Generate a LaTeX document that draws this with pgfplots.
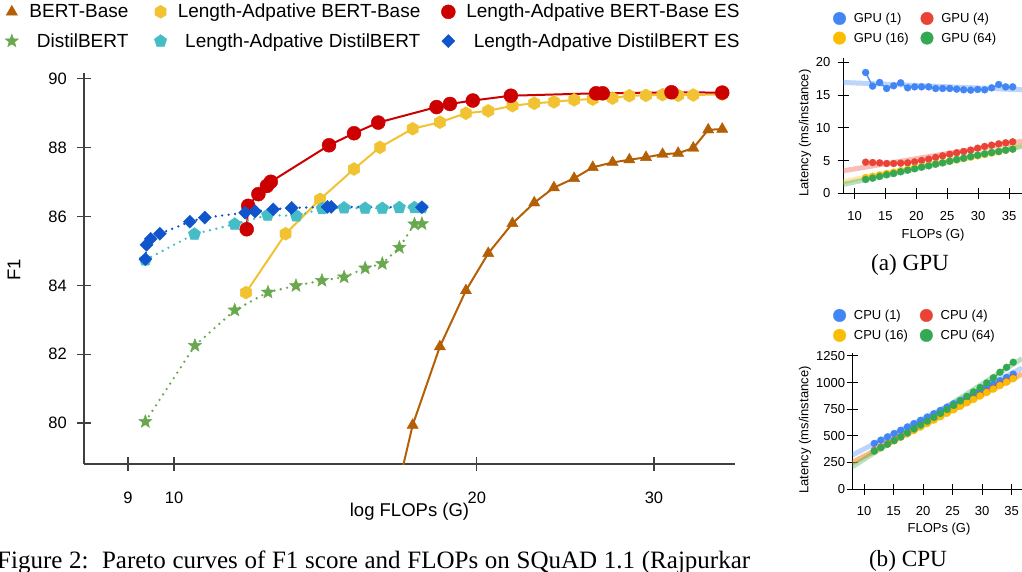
\documentclass[border=0pt]{standalone}
\usepackage{fontspec}
\setmainfont{Liberation Sans}
\newfontfamily\capfont{Liberation Serif}
\usepackage{pgfplots}
\pgfplotsset{compat=1.18}
\usetikzlibrary{plotmarks}

\definecolor{cBrown}{HTML}{B45F06}
\definecolor{cYellow}{HTML}{F1C232}
\definecolor{cRed}{HTML}{CC0000}
\definecolor{cGreen}{HTML}{6AA84F}
\definecolor{cCyan}{HTML}{46BDC6}
\definecolor{cBlue}{HTML}{1155CC}
\definecolor{gBlue}{HTML}{4285F4}
\definecolor{gRed}{HTML}{EA4335}
\definecolor{gYellow}{HTML}{FBBC04}
\definecolor{gGreen}{HTML}{34A853}

% filled hexagon and filled 5-point star marks
\pgfdeclareplotmark{hexagon*}{%
  \pgfpathmoveto{\pgfpointpolar{90}{\pgfplotmarksize}}%
  \pgfpathlineto{\pgfpointpolar{150}{\pgfplotmarksize}}%
  \pgfpathlineto{\pgfpointpolar{210}{\pgfplotmarksize}}%
  \pgfpathlineto{\pgfpointpolar{270}{\pgfplotmarksize}}%
  \pgfpathlineto{\pgfpointpolar{330}{\pgfplotmarksize}}%
  \pgfpathlineto{\pgfpointpolar{30}{\pgfplotmarksize}}%
  \pgfpathclose
  \pgfusepathqfillstroke
}
\pgfdeclareplotmark{fstar}{%
  \pgfpathmoveto{\pgfpointpolar{90}{\pgfplotmarksize}}%
  \pgfpathlineto{\pgfpointpolar{126}{0.42\pgfplotmarksize}}%
  \pgfpathlineto{\pgfpointpolar{162}{\pgfplotmarksize}}%
  \pgfpathlineto{\pgfpointpolar{198}{0.42\pgfplotmarksize}}%
  \pgfpathlineto{\pgfpointpolar{234}{\pgfplotmarksize}}%
  \pgfpathlineto{\pgfpointpolar{270}{0.42\pgfplotmarksize}}%
  \pgfpathlineto{\pgfpointpolar{306}{\pgfplotmarksize}}%
  \pgfpathlineto{\pgfpointpolar{342}{0.42\pgfplotmarksize}}%
  \pgfpathlineto{\pgfpointpolar{18}{\pgfplotmarksize}}%
  \pgfpathlineto{\pgfpointpolar{54}{0.42\pgfplotmarksize}}%
  \pgfpathclose
  \pgfusepathqfillstroke
}

\pgfplotsset{
  /pgf/number format/assume math mode=true,
  /pgf/number format/1000 sep={},
  dotline/.style={dash pattern=on 0pt off 6.5pt, line cap=round, line width=2.6pt},
  trend/.style={line width=5pt, opacity=0.35, forget plot},
}

\begin{document}
\begin{tikzpicture}
\useasboundingbox (0pt,0pt) rectangle (1022pt,571pt);

% ---------------- main Pareto chart ----------------
\begin{axis}[
  at={(84pt,107pt)}, anchor=south west,
  scale only axis, width=651pt, height=391pt,
  xmode=log, xmin=8.138, xmax=36.12, ymin=78.81, ymax=90.17,
  axis x line*=bottom, axis y line*=left,
  axis line style={draw=black!75, line width=1.3pt},
  every tick/.style={draw=black!75, line width=1.3pt},
  tick align=center, major tick length=14pt,
  xtick={9,10,20,30}, xticklabels={9,10,20,30}, minor xtick={},
  ytick={80,82,84,86,88,90},
  tick label style={font=\fontsize{16.5}{18}\selectfont, inner sep=0pt},
  xticklabel style={anchor=center, yshift=-27pt},
  yticklabel style={anchor=east, xshift=-10pt},
  xlabel={log FLOPs (G)}, ylabel={F1},
  label style={font=\fontsize{18.5}{21}\selectfont},
  xlabel style={at={(axis description cs:0.5,-0.1228)}, anchor=center},
  ylabel style={at={(axis description cs:-0.1075,0.496)}, anchor=center},
  legend columns=3, legend cell align=right,
  legend style={draw=none, fill=none, at={(axis description cs:-0.126,1.1867)},
    anchor=north west, font=\fontsize{19}{22}\selectfont, row sep=10pt,
    /tikz/every odd column/.append style={column sep=9pt},
    /tikz/every even column/.append style={column sep=24pt}},
  legend image code/.code={\draw[#1,/tikz/only marks] plot coordinates {(0pt,0pt)};},
]
\addplot[cBrown, line width=2pt, mark=triangle*, mark size=6.5pt,
  mark options={solid, line width=0.4pt}] coordinates {
  (16.6,77.8) (17.27,79.94) (18.38,82.22) (19.51,83.85) (20.53,84.93) (21.70,85.80)
  (22.81,86.40) (23.86,86.84) (24.99,87.11) (26.08,87.43) (27.29,87.57) (28.36,87.65)
  (29.46,87.72) (30.60,87.81) (31.71,87.84) (32.83,87.99) (33.97,88.52) (35.08,88.54)};
\addlegendentry{BERT-Base}
\addplot[cYellow, line width=2pt, mark=hexagon*, mark size=6.5pt,
  mark options={solid, line width=0.4pt}] coordinates {
  (11.79,83.79) (12.91,85.50) (13.97,86.50) (15.10,87.38) (16.02,88.01) (17.27,88.55)
  (18.38,88.74) (19.51,89.00) (20.53,89.07) (21.70,89.22) (22.81,89.29) (23.86,89.33)
  (24.99,89.39) (26.08,89.41) (27.29,89.44) (28.36,89.51) (29.46,89.52) (30.60,89.54)
  (31.71,89.52) (32.83,89.53) (35.08,89.55)};
\addlegendentry{Length-Adpative BERT-Base\hspace*{-5pt}}
\addplot[cRed, line width=2pt, mark=*, mark size=7pt,
  mark options={solid, line width=0.4pt}] coordinates {
  (11.81,85.63) (11.85,86.31) (12.13,86.65) (12.37,86.89) (12.48,87.01) (14.26,88.07)
  (15.10,88.42) (15.96,88.73) (18.24,89.18) (18.81,89.27) (19.82,89.37) (21.62,89.51)
  (26.28,89.58) (26.68,89.58) (31.23,89.61) (35.08,89.60)};
\addlegendentry{Length-Adpative BERT-Base ES}
\addplot[cGreen, dotline, mark=fstar, mark size=7pt,
  mark options={solid, line width=0.4pt}] coordinates {
  (9.365,80.04) (10.49,82.25) (11.49,83.28) (12.40,83.80) (13.22,83.99) (14.03,84.14)
  (14.76,84.24) (15.49,84.50) (16.11,84.63) (16.75,85.10) (17.34,85.78) (17.64,85.79)};
\addlegendentry{DistilBERT}
\addplot[cCyan, dotline, mark=pentagon*, mark size=6.5pt,
  mark options={solid, line width=0.4pt}] coordinates {
  (9.365,84.74) (10.48,85.49) (11.49,85.78) (12.39,86.04) (13.23,86.02) (14.04,86.23)
  (14.76,86.25) (15.49,86.24) (16.11,86.24) (16.75,86.26) (17.34,86.26) (17.64,86.26)};
\addlegendentry{Length-Adpative DistilBERT\hspace*{-5pt}}
\addplot[cBlue, dotline, mark=square*, mark size=4.6pt,
  mark options={solid, line width=0.4pt, rotate=45}] coordinates {
  (9.365,84.76) (9.39,85.18) (9.48,85.35) (9.68,85.50) (10.37,85.85) (10.73,85.97)
  (11.77,86.11) (12.04,86.15) (12.55,86.21) (13.09,86.25) (14.21,86.28) (14.33,86.28)
  (17.64,86.27)};
\addlegendentry{Length-Adpative DistilBERT ES}
\end{axis}

% ---------------- (a) GPU latency ----------------
\begin{axis}[
  at={(843pt,377.5pt)}, anchor=south west,
  scale only axis, width=179pt, height=135.8pt,
  xmin=8.14, xmax=37.1, ymin=0, ymax=20.73,
  axis x line*=bottom, axis y line*=left,
  axis line style={black, line width=1pt},
  every tick/.style={black, line width=1pt},
  tick align=center, major tick length=11pt,
  xtick={10,15,20,25,30,35}, ytick={0,5,10,15,20},
  tick label style={font=\fontsize{13}{15}\selectfont, inner sep=0pt},
  xticklabel style={anchor=center, yshift=-17.5pt},
  yticklabel style={anchor=east, xshift=-7pt},
  xlabel={FLOPs (G)}, ylabel={Latency (ms/instance)},
  label style={font=\fontsize{13}{15}\selectfont},
  xlabel style={at={(axis description cs:0.503,-0.3056)}, anchor=center},
  ylabel style={at={(axis description cs:-0.2123,0.4455)}, anchor=center},
  legend columns=2, legend cell align=left,
  legend style={draw=none, fill=none, at={(axis description cs:-0.0726,1.36)},
    anchor=north west, font=\fontsize{13}{15}\selectfont, row sep=4.7pt,
    /tikz/every odd column/.append style={column sep=6pt},
    /tikz/every even column/.append style={column sep=10pt}},
  legend image code/.code={\draw[#1,/tikz/only marks,mark size=6.3pt] plot coordinates {(0pt,0pt)};},
]
\addplot[trend, gBlue] coordinates {(8.14,16.95) (37.1,15.83)};
\addplot[trend, gRed] coordinates {(8.14,3.46) (37.1,7.99)};
\addplot[trend, gYellow] coordinates {(8.14,1.78) (37.1,7.35)};
\addplot[trend, gGreen] coordinates {(8.14,1.37) (37.1,7.20)};
\addplot[gBlue, line width=1.3pt, mark=*, mark size=3.5pt, mark options={line width=0.3pt}] coordinates {
  (11.80,18.47) (12.93,16.39) (14.07,16.95) (15.20,16.03) (16.33,16.44) (17.47,16.90)
  (18.60,16.13) (19.73,16.28) (20.86,16.28) (22.00,16.28) (23.13,16.03) (24.26,16.03)
  (25.40,16.03) (26.53,15.93) (27.66,15.83) (28.80,15.78) (29.93,15.88) (31.06,15.83)
  (32.19,16.13) (33.33,16.64) (34.46,16.28) (35.59,16.28)};
\addlegendentry{GPU (1)}
\addplot[gRed, line width=1.3pt, mark=*, mark size=3.5pt, mark options={line width=0.3pt}] coordinates {
  (11.80,4.78) (12.93,4.73) (14.07,4.68) (15.20,4.58) (16.33,4.58) (17.47,4.63)
  (18.60,4.68) (19.73,4.83) (20.86,5.04) (22.00,5.24) (23.13,5.50) (24.26,5.75)
  (25.40,6.00) (26.53,6.21) (27.66,6.41) (28.80,6.62) (29.93,6.92) (31.06,7.18)
  (32.19,7.38) (33.33,7.58) (34.46,7.74) (35.59,7.89)};
\addlegendentry{GPU (4)}
\addplot[gYellow, line width=1.3pt, mark=*, mark size=3.5pt, mark options={line width=0.3pt}] coordinates {
  (11.80,2.44) (12.93,2.64) (14.07,2.85) (15.20,3.06) (16.33,3.26) (17.47,3.47)
  (18.60,3.68) (19.73,3.88) (20.86,4.09) (22.00,4.30) (23.13,4.50) (24.26,4.71)
  (25.40,4.92) (26.53,5.12) (27.66,5.33) (28.80,5.54) (29.93,5.74) (31.06,5.95)
  (32.19,6.16) (33.33,6.36) (34.46,6.57) (35.59,6.78)};
\addlegendentry{GPU (16)}
\addplot[gGreen, line width=1.3pt, mark=*, mark size=3.5pt, mark options={line width=0.3pt}] coordinates {
  (11.80,2.14) (12.93,2.34) (14.07,2.60) (15.20,2.85) (16.33,3.05) (17.47,3.31)
  (18.60,3.56) (19.73,3.77) (20.86,4.02) (22.00,4.22) (23.13,4.48) (24.26,4.68)
  (25.40,4.94) (26.53,5.19) (27.66,5.39) (28.80,5.65) (29.93,5.85) (31.06,6.06)
  (32.19,6.26) (33.33,6.41) (34.46,6.62) (35.59,6.77)};
\addlegendentry{GPU (64)}
\end{axis}

% ---------------- (b) CPU latency ----------------
\begin{axis}[
  at={(852.3pt,82pt)}, anchor=south west,
  scale only axis, width=169.7pt, height=135.7pt,
  xmin=8.02, xmax=36.75, ymin=0, ymax=1275,
  axis x line*=bottom, axis y line*=left,
  axis line style={black, line width=1pt},
  every tick/.style={black, line width=1pt},
  tick align=center, major tick length=11pt,
  xtick={10,15,20,25,30,35}, ytick={0,250,500,750,1000,1250},
  scaled y ticks=false,
  tick label style={font=\fontsize{13}{15}\selectfont, inner sep=0pt},
  xticklabel style={anchor=center, yshift=-17pt},
  yticklabel style={anchor=east, xshift=-1.5pt},
  xlabel={FLOPs (G)}, ylabel={Latency (ms/instance)},
  label style={font=\fontsize{13}{15}\selectfont},
  xlabel style={at={(axis description cs:0.511,-0.297)}, anchor=center},
  ylabel style={at={(axis description cs:-0.2787,0.4348)}, anchor=center},
  legend columns=2, legend cell align=left,
  legend style={draw=none, fill=none, at={(axis description cs:-0.131,1.35)},
    anchor=north west, font=\fontsize{13}{15}\selectfont, row sep=5pt,
    /tikz/every odd column/.append style={column sep=6pt},
    /tikz/every even column/.append style={column sep=10pt}},
  legend image code/.code={\draw[#1,/tikz/only marks,mark size=6.3pt] plot coordinates {(0pt,0pt)};},
]
\addplot[trend, gBlue] coordinates {(8.02,319) (36.75,1137)};
\addplot[trend, gRed] coordinates {(8.02,250) (36.75,1084)};
\addplot[trend, gYellow] coordinates {(8.02,245) (36.75,1075)};
\addplot[trend, gGreen] coordinates {(8.02,209) (36.75,1225)};
\addplot[gBlue, line width=1.3pt, mark=*, mark size=3.5pt, mark options={line width=0.3pt}] coordinates {
  (11.74,428) (12.86,459) (13.98,490) (15.10,521) (16.22,552) (17.34,583)
  (18.46,614) (19.58,645) (20.70,676) (21.82,707) (22.94,738) (24.06,769)
  (25.18,800) (26.30,831) (27.42,862) (28.54,893) (29.66,924) (30.78,955)
  (31.90,986) (33.02,1017) (34.14,1048) (35.26,1079)};
\addlegendentry{CPU (1)}
\addplot[gRed, line width=1.3pt, mark=*, mark size=3.5pt, mark options={line width=0.3pt}] coordinates {
  (11.74,362) (12.86,394) (13.98,427) (15.10,459) (16.22,492) (17.34,524)
  (18.46,556) (19.58,589) (20.70,621) (21.82,654) (22.94,686) (24.06,718)
  (25.18,751) (26.30,783) (27.42,816) (28.54,848) (29.66,880) (30.78,913)
  (31.90,945) (33.02,978) (34.14,1010) (35.26,1043)};
\addlegendentry{CPU (4)}
\addplot[gYellow, line width=1.3pt, mark=*, mark size=3.5pt, mark options={line width=0.3pt}] coordinates {
  (11.74,356) (12.86,388) (13.98,421) (15.10,453) (16.22,486) (17.34,518)
  (18.46,550) (19.58,583) (20.70,615) (21.82,648) (22.94,680) (24.06,712)
  (25.18,745) (26.30,777) (27.42,810) (28.54,842) (29.66,874) (30.78,907)
  (31.90,939) (33.02,972) (34.14,1004) (35.26,1037)};
\addlegendentry{CPU (16)}
\addplot[gGreen, line width=1.3pt, mark=*, mark size=3.5pt, mark options={line width=0.3pt}] coordinates {
  (11.74,356) (12.86,389) (13.98,421) (15.10,455) (16.22,490) (17.34,527)
  (18.46,565) (19.58,601) (20.70,637) (21.82,673) (22.94,710) (24.06,747)
  (25.18,786) (26.30,828) (27.42,870) (28.54,912) (29.66,953) (30.78,996)
  (31.90,1045) (33.02,1097) (34.14,1143) (35.26,1191)};
\addlegendentry{CPU (64)}
\end{axis}

% ---------------- captions ----------------
\node[anchor=base, font=\capfont\fontsize{23.2}{25}\selectfont, inner sep=0pt] at (910pt,300.4pt) {(a) GPU};
\node[anchor=base, font=\capfont\fontsize{23.2}{25}\selectfont, inner sep=0pt] at (908pt,5pt) {(b) CPU};
\node[anchor=base west, font=\capfont\fontsize{25}{27}\selectfont, inner sep=0pt] at (-3pt,3pt)
  {\makebox[753pt][s]{Figure 2:\ \ Pareto curves of F1 score and FLOPs on SQuAD 1.1 (Rajpurkar}};
\end{tikzpicture}
\end{document}
